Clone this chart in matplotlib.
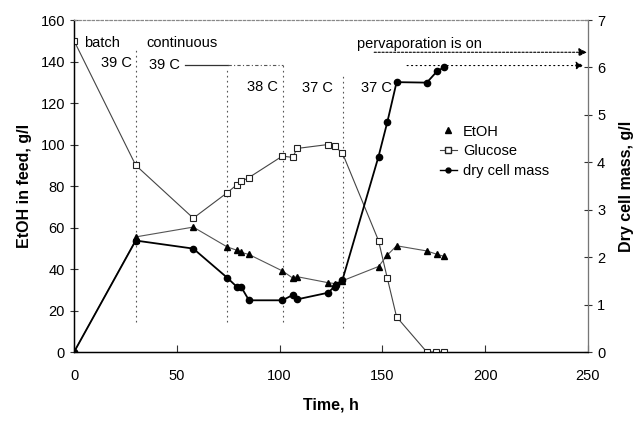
import matplotlib
matplotlib.use("Agg")
import matplotlib.pyplot as plt
from matplotlib.lines import Line2D

plt.rcParams['font.family'] = ['Liberation Sans', 'DejaVu Sans']

# Data
glc_t = [0, 30, 58, 74.4, 79.3, 81.3, 85.1, 101.3, 106.3, 108.5, 123.6, 126.7, 130.5, 148.1, 152.4, 156.9, 171.6, 176.2, 180]
glc_v = [150, 90, 64.5, 76.7, 80.7, 82.2, 84.1, 94.4, 93.8, 98.1, 100, 99.1, 96, 53.7, 35.5, 16.9, 0, 0, 0]

etoh_t = [0, 30, 30.2, 58, 74.4, 79.3, 81.3, 85.1, 101.3, 106.3, 108.5, 123.6, 126.7, 130.5, 148.1, 152.4, 156.9, 171.6, 176.8, 180]
etoh_v = [0, 54, 55.5, 60.2, 50.7, 49, 48, 47, 39.1, 35.7, 36.3, 33.4, 33, 34.3, 41.2, 46.7, 51.2, 48.7, 47, 46.1]

dcm_t = [0, 30, 58, 74.4, 79.3, 81.3, 85.1, 101.3, 106.3, 108.5, 123.6, 126.7, 127.3, 130.5, 148.1, 152.4, 156.9, 171.6, 176.8, 180]
dcm_v = [0, 2.35, 2.18, 1.57, 1.37, 1.37, 1.09, 1.09, 1.20, 1.11, 1.25, 1.38, 1.42, 1.51, 4.12, 4.85, 5.69, 5.68, 5.93, 6.0]

phase_t = [30, 74.4, 101.5, 131]
phase_lo = [14.5, 14.5, 14.5, 11.5]
phase_hi = [147, 136.5, 139, 133]

fig = plt.figure(figsize=(6.44, 4.40), dpi=100)
ax = fig.add_axes([0.115, 0.2, 0.798, 0.7545])
ax2 = ax.twinx()

grey = '#555555'
# phase lines
for t, lo, hi in zip(phase_t, phase_lo, phase_hi):
    ax.plot([t, t], [lo, hi], color=grey, lw=0.8, ls=(0, (1.5, 3)))
# temperature line
ax.plot([54, 75], [138.5, 138.5], color='#333333', lw=0.9)
ax.plot([75, 101.5], [138.5, 138.5], color=grey, lw=0.8, ls=(0, (3, 2, 1, 2)))

# series
ax.plot(glc_t, glc_v, color='#444444', lw=0.8, marker='s', ms=5,
        mfc='white', mec='#222222', mew=0.8, zorder=3)
ax.plot(etoh_t, etoh_v, color='#555555', lw=0.8, marker='^', ms=5,
        mfc='black', mec='black', zorder=3)
ax2.plot(dcm_t, dcm_v, color='black', lw=1.3, marker='o', ms=4.5,
         mfc='black', mec='black', zorder=3)

# arrows
ax2.annotate('', xy=(249.5, 6.32), xytext=(146, 6.32),
             arrowprops=dict(arrowstyle='-|>', color='black', lw=0.8, ls=(0, (2, 1.5)),
                             mutation_scale=12, shrinkA=0, shrinkB=0))
ax2.annotate('', xy=(248, 6.04), xytext=(162, 6.04),
             arrowprops=dict(arrowstyle='-|>', color='black', lw=0.8, ls=(0, (1, 3)),
                             mutation_scale=12, shrinkA=0, shrinkB=0))

# texts
fs = 10.5
ax.text(5, 149, 'batch', fontsize=fs, va='center', ha='left')
ax.text(28, 139.5, '39 C', fontsize=fs, va='center', ha='right')
ax.text(35, 149, 'continuous', fontsize=fs, va='center', ha='left')
ax.text(36.5, 138.5, '39 C', fontsize=fs, va='center', ha='left')
ax.text(84, 127.5, '38 C', fontsize=fs, va='center', ha='left')
ax.text(111, 127, '37 C', fontsize=fs, va='center', ha='left')
ax.text(139.5, 127, '37 C', fontsize=fs, va='center', ha='left')
ax.text(137.5, 148.5, 'pervaporation is on', fontsize=fs, va='center', ha='left')

ax.set_xlim(0, 250)
ax.set_ylim(0, 160)
ax2.set_ylim(0, 7)
ax.set_xticks([0, 50, 100, 150, 200, 250])
ax.set_yticks(range(0, 161, 20))
ax2.set_yticks(range(0, 8))

for a in (ax, ax2):
    a.tick_params(labelsize=10.5, length=6, width=0.8, direction='inout', color='#333333')
    a.spines['top'].set_linestyle((0, (2, 2)))
    a.spines['top'].set_color('#888888')
    a.spines['top'].set_linewidth(0.8)
ax.tick_params(axis='x', direction='in', length=5, pad=12)
ax.spines['left'].set_linewidth(1.0)
ax.spines['bottom'].set_linewidth(1.0)
ax2.spines['right'].set_color('#777777')
ax2.spines['right'].set_linewidth(0.8)

ax.set_xlabel('Time, h', fontsize=11.5, fontweight='bold', labelpad=11)
ax.set_ylabel('EtOH in feed, g/l', fontsize=11.5, fontweight='bold', labelpad=6)
ax2.set_ylabel('Dry cell mass, g/l', fontsize=11.5, fontweight='bold', labelpad=10)

handles = [
    Line2D([], [], ls='none', marker='^', ms=4, mfc='black', mec='black'),
    Line2D([], [], color='#444444', lw=0.8, marker='s', ms=4, mfc='white', mec='#222222'),
    Line2D([], [], color='black', lw=1.0, marker='o', ms=3.5, mfc='black', mec='black'),
]
ax.legend(handles, ['EtOH', 'Glucose', 'dry cell mass'], loc='upper left',
          bbox_to_anchor=(0.712, 0.685), frameon=False, fontsize=10.5,
          handlelength=1.17, handletextpad=0.4, labelspacing=0.38, borderaxespad=0,
          borderpad=0)

fig.savefig('out.png', dpi=100)
